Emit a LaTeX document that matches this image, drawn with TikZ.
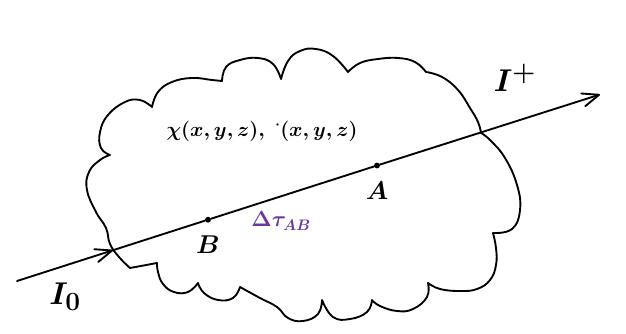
\documentclass[tikz,border=0pt]{standalone}
\usepackage{amsmath, amssymb}
\usepackage{tikz}
\usepackage{xcolor}
\usetikzlibrary{arrows.meta}
\definecolor{inkpurple}{RGB}{106,56,160}

\begin{document}
\begin{tikzpicture}[x=0.03cm, y=-0.03cm,
    pen/.style={line width=1.6pt, line cap=round, line join=round},
    ray/.style={pen, -{Straight Barb[length=5mm, width=4mm, round]}},
    dot/.style={circle, fill, inner sep=0pt, minimum size=5pt},
    lbl/.style={font=\huge\boldmath},
    biglbl/.style={font=\Huge\boldmath, scale=1.08}]
    \useasboundingbox[fill=white] (0,0) rectangle (626,333);

    % Cloud
    \draw[pen] plot[smooth, tension=0.75] coordinates {(152,107) (158,92) (172,82) (192,78) (212,80) (222,81)}
        -- plot[smooth, tension=0.75] coordinates {(222,81) (226,67) (240,60) (258,58) (273,64) (281,79)}
        -- plot[smooth, tension=0.75] coordinates {(281,79) (288,61) (300,51) (316,49) (333,56) (348,72)}
        -- plot[smooth, tension=0.75] coordinates {(348,72) (360,63) (378,59) (398,58) (415,62) (426,72)}
        -- plot[smooth, tension=0.75] coordinates {(426,72) (442,77) (458,90) (470,108) (478,122) (481,133)}
        -- plot[smooth, tension=0.75] coordinates {(481,133) (490,140) (505,158) (517,185) (520,210) (512,229) (493,233)}
        -- plot[smooth, tension=0.75] coordinates {(493,233) (496,248) (496,265) (490,280) (477,289) (460,291) (440,289) (428,283)}
        -- plot[smooth, tension=0.75] coordinates {(428,283) (427,297) (413,309) (397,311) (380,306) (372,300)}
        -- plot[smooth, tension=0.75] coordinates {(372,300) (367,312) (350,319) (333,317) (322,300)}
        -- plot[smooth, tension=0.75] coordinates {(322,300) (318,314) (303,321) (288,318) (277,307) (260,298) (240,287)}
        -- plot[smooth, tension=0.75] coordinates {(240,287) (233,298) (218,300) (204,293) (198,283)}
        -- plot[smooth, tension=0.75] coordinates {(198,283) (188,292) (174,292) (163,284) (158,272) (157,263)}
        -- (130,268)
        -- plot[smooth, tension=0.75] coordinates {(130,268) (119,257) (110,244) (106,228) (96,212) (87,190) (89,172) (100,160) (110,155)}
        -- plot[smooth, tension=0.75] coordinates {(110,155) (101,148) (100,132) (108,115) (125,102) (140,100) (152,107)}
        -- cycle;

    % Ray through the cloud
    \coordinate (start) at (17,281);
    \coordinate (entry) at (113,250.2);
    \coordinate (end) at (600,94.5);
    \foreach \name/\x/\y in {B/208/219.7, A/377/165.5}
        \node[dot] (\name) at (\x,\y) {};
    \draw[ray] (start) -- (entry);
    \draw[pen] (entry) -- (B) -- (A);
    \draw[ray] (A) -- (end);

    % Labels
    \node[lbl, scale=1.06] (Blabel) at (208,245) {$B$};
    \node[lbl, scale=1.06] (Alabel) at (377,191) {$A$};
    \node[biglbl] (Izero) at (65,297) {$I_0$};
    \node[biglbl] (Iplus) at (515,78) {$I^+$};
    \node[lbl, scale=0.84] (fields) at (262,131) {$\chi(x,y,z),\;{}^{\cdot}(x,y,z)$};
    \node[lbl, scale=0.9, text=inkpurple] (dtau) at (281,221) {$\Delta\tau_{AB}$};
\end{tikzpicture}
\end{document}
